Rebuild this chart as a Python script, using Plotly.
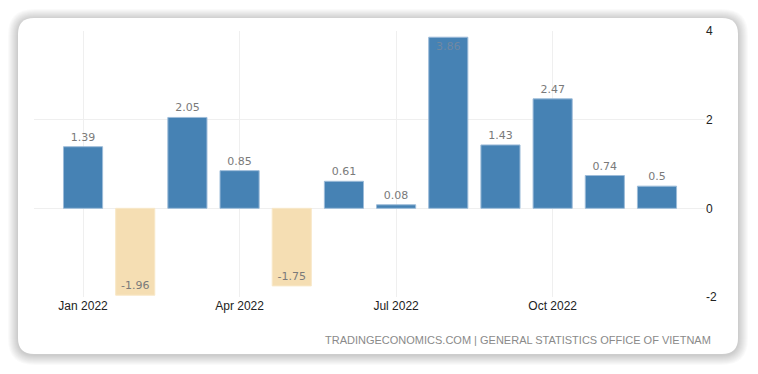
import plotly.graph_objects as go

# ---- data ----
months = ["Jan 2022", "Feb 2022", "Mar 2022", "Apr 2022", "May 2022", "Jun 2022",
          "Jul 2022", "Aug 2022", "Sep 2022", "Oct 2022", "Nov 2022", "Dec 2022"]
values = [1.39, -1.96, 2.05, 0.85, -1.75, 0.61, 0.08, 3.86, 1.43, 2.47, 0.74, 0.5]
tick_months = ["Jan 2022", "Apr 2022", "Jul 2022", "Oct 2022"]
y_ticks = [-2, 0, 2, 4]
source_text = "TRADINGECONOMICS.COM | GENERAL STATISTICS OFFICE OF VIETNAM"

# ---- layout geometry (window pixels); page body has an 8px margin ----
OFF = 8
W, H = 758 - OFF, 374 - OFF
PL, PR, PT, PB = 34 - OFF, 705 - OFF, 31 - OFF, 297 - OFF  # plot area in figure px


def px(x):
    return (x - OFF - PL) / (PR - PL)


def py(y):
    return (PB - (y - OFF)) / (PB - PT)


pos_color = "#4682B4"
neg_color = "#F5DEB3"
colors = [pos_color if v >= 0 else neg_color for v in values]
line_colors = ["#9dbcd9" if v >= 0 else "#f8e8c8" for v in values]
text_pos = []
for v in values:
    if v < 0 or v > 3.5:
        text_pos.append("inside")
    else:
        text_pos.append("outside")
text_colors = []
for v, p in zip(values, text_pos):
    if p == "inside" and v > 0:
        text_colors.append("#7088a2")
    else:
        text_colors.append("#7a7a7a")

fig = go.Figure()
fig.add_trace(go.Bar(
    x=months, y=values,
    marker=dict(color=colors, line=dict(color=line_colors, width=1)),
    text=[f"{v:g}" for v in values],
    textposition=text_pos,
    insidetextanchor="end",
    textfont=dict(family="DejaVu Sans", size=11, color=text_colors),
    constraintext="none",
    cliponaxis=False,
    hoverinfo="skip",
))


def rounded_rect(x0, y0, x1, y1, r):
    X = px
    Y = py
    return (f"M {X(x0 + r)},{Y(y0)} L {X(x1 - r)},{Y(y0)} "
            f"Q {X(x1)},{Y(y0)} {X(x1)},{Y(y0 + r)} L {X(x1)},{Y(y1 - r)} "
            f"Q {X(x1)},{Y(y1)} {X(x1 - r)},{Y(y1)} L {X(x0 + r)},{Y(y1)} "
            f"Q {X(x0)},{Y(y1)} {X(x0)},{Y(y1 - r)} L {X(x0)},{Y(y0 + r)} "
            f"Q {X(x0)},{Y(y0)} {X(x0 + r)},{Y(y0)} Z")


shapes = []
cx0, cy0, cx1, cy1, cr = 18, 18, 738, 354, 16
for i in range(10, 0, -1):
    shapes.append(dict(type="path", xref="paper", yref="paper", layer="below",
                       path=rounded_rect(cx0 - i, cy0 - i + 1, cx1 + i, cy1 + i + 1, cr + i),
                       fillcolor="rgba(0,0,0,0.02)", line=dict(width=0)))
shapes.append(dict(type="path", xref="paper", yref="paper", layer="below",
                   path=rounded_rect(cx0, cy0, cx1, cy1, cr),
                   fillcolor="white", line=dict(width=0)))

fig.update_layout(
    width=W, height=H,
    margin=dict(l=PL, r=W - PR, t=PT, b=H - PB),
    paper_bgcolor="white",
    plot_bgcolor="rgba(0,0,0,0)",
    showlegend=False,
    bargap=0.25,
    shapes=shapes,
    font=dict(family="Liberation Sans", size=12, color="#222"),
    xaxis=dict(
        type="category",
        range=[-0.94, 11.92],
        tickvals=tick_months,
        ticktext=[m for m in tick_months],
        showgrid=True, gridcolor="#efefef", gridwidth=1,
        showline=False, zeroline=False, ticks="",
        tickfont=dict(family="Liberation Sans", size=12, color="#222"),
        fixedrange=True,
    ),
    yaxis=dict(
        side="right",
        range=[-2, 4],
        tickvals=y_ticks,
        ticktext=[str(t) for t in y_ticks],
        showgrid=True, gridcolor="#efefef", gridwidth=1,
        zeroline=True, zerolinecolor="#efefef", zerolinewidth=1,
        showline=False, ticks="",
        tickfont=dict(family="Liberation Sans", size=12, color="#222"),
        fixedrange=True,
    ),
    annotations=[dict(
        text=source_text, xref="paper", yref="paper",
        x=px(713), y=py(340), xanchor="right", yanchor="middle",
        showarrow=False,
        font=dict(family="Liberation Sans", size=11, color="#8a8a8a"),
    )],
)

fig.write_html("out.html", config={"displayModeBar": False})
